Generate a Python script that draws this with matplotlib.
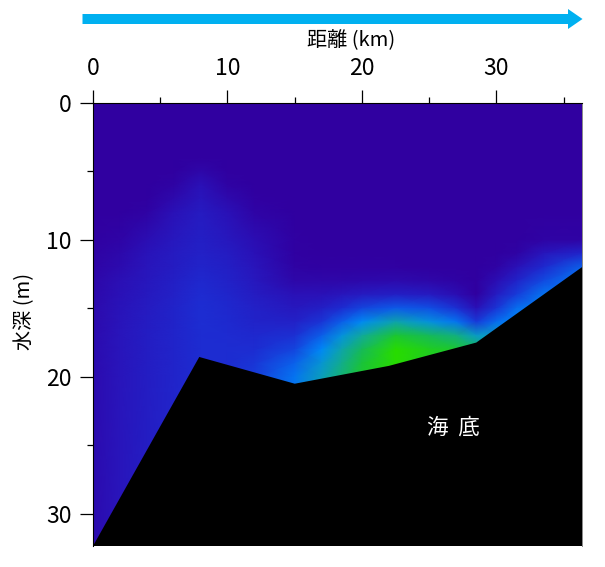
import matplotlib
matplotlib.use("Agg")
import matplotlib.pyplot as plt
from matplotlib.colors import LinearSegmentedColormap
from matplotlib.patches import FancyArrow
import numpy as np

W, H = 605, 567

# station distances (km) and depths (m) of the field
dist = [0, 2, 4, 6, 8, 10, 12, 15, 17, 18.5, 20, 22.5, 25, 27, 28.5, 30, 31.5, 33.5, 36.36]
depth = [0, 4, 5, 6, 7, 8, 10, 11, 12, 13, 14, 15, 16, 17, 18, 19, 20, 33]
conc = [
    [0, 0, 0, 0, 0, 0, 0, 0, 0, 0, 0, 0, 0, 0, 0, 0, 0, 0, 0],
    [0, 0, 0, 0, 0, 0, 0, 0, 0, 0, 0, 0, 0, 0, 0, 0, 0, 0, 0],
    [0, 0, 0, 0, .02, 0, 0, 0, 0, 0, 0, 0, 0, 0, 0, 0, 0, 0, 0],
    [0, 0, 0, .01, .05, .01, 0, 0, 0, 0, 0, 0, 0, 0, 0, 0, 0, 0, 0],
    [0, 0, 0, .03, .07, .03, .005, 0, 0, 0, 0, 0, 0, 0, 0, 0, 0, 0, 0],
    [0, 0, .01, .05, .09, .05, .015, 0, 0, 0, 0, 0, 0, 0, 0, 0, 0, 0, 0],
    [.005, .015, .04, .08, .11, .08, .04, .005, 0, 0, 0, 0, 0, 0, 0, 0, 0, .01, .01],
    [.01, .025, .055, .09, .12, .095, .05, .005, 0, 0, 0, 0, 0, 0, 0, 0, .01, .07, .14],
    [.015, .035, .065, .10, .135, .11, .065, .01, .005, .005, .005, .005, 0, 0, 0, .01, .05, .16, .34],
    [.02, .045, .075, .11, .15, .125, .08, .02, .02, .02, .025, .03, .02, .01, 0, .04, .13, .28, .42],
    [.025, .05, .085, .12, .165, .14, .10, .05, .05, .07, .09, .11, .09, .04, 0, .10, .23, .40, .42],
    [.03, .055, .09, .13, .175, .155, .12, .08, .11, .17, .26, .33, .30, .18, .05, .20, .38, .42, .42],
    [.03, .06, .10, .13, .175, .16, .13, .12, .20, .34, .46, .60, .50, .40, .22, .38, .45, .45, .45],
    [.035, .065, .105, .135, .17, .165, .15, .18, .34, .50, .63, .85, .75, .68, .55, .55, .45, .45, .45],
    [.035, .065, .105, .135, .17, .17, .17, .26, .45, .60, .75, 1, .90, .85, .75, .55, .45, .45, .45],
    [.035, .065, .105, .135, .17, .17, .20, .35, .52, .66, .82, 1, .90, .85, .75, .55, .45, .45, .45],
    [.035, .065, .105, .135, .17, .17, .23, .40, .57, .70, .85, 1, .90, .85, .75, .55, .45, .45, .45],
    [.035, .065, .105, .135, .17, .17, .23, .40, .57, .70, .85, 1, .90, .85, .75, .55, .45, .45, .45],
]

# seabed outline
bed_x = [0, 7.9, 15, 22, 28.5, 36.36]
bed_y = [32.33, 18.55, 20.5, 19.2, 17.5, 12.0]

cmap = LinearSegmentedColormap.from_list("field", [
    (0.0, "#3000a0"), (0.05, "#2a12b8"), (0.16, "#1e2ad0"), (0.30, "#1050e4"),
    (0.45, "#0088f8"), (0.62, "#10a8a0"), (0.80, "#18c040"), (1.0, "#28dc00")])

narrow = ["Liberation Sans Narrow", "Noto Sans CJK JP", "DejaVu Sans"]
plt.rcParams["font.family"] = narrow

fig = plt.figure(figsize=(W / 100, H / 100), dpi=100)
ax = fig.add_axes([93 / W, 1 - 546 / H, (582 - 93) / W, (546 - 102.5) / H])

ax.pcolormesh(dist, depth, np.array(conc), cmap=cmap, vmin=0, vmax=1,
              shading="gouraud", rasterized=True)
ax.fill(bed_x + [36.36, 0], bed_y + [32.33, 32.33], color="k", lw=0)

ax.set_xlim(0, 36.36)
ax.set_ylim(32.33, 0)
ax.xaxis.tick_top()
ax.set_xticks([0, 10, 20, 30])
ax.set_xticks([5, 15, 25, 35], minor=True)
ax.set_yticks([0, 10, 20, 30])
ax.set_yticks([5, 15, 25], minor=True)
ax.tick_params(which="major", length=9.5, width=0.9, pad=6, labelsize=16.5)
ax.tick_params(which="minor", length=4.5, width=0.9)
ax.tick_params(axis="x", which="major", pad=7)
ax.spines["bottom"].set_visible(False)
ax.spines["right"].set_color("#888888")
ax.spines["right"].set_linewidth(0.7)

# direction arrow above the chart, in figure pixels
arrow = FancyArrow(82.5 / W, 1 - 19 / H, (582.5 - 82.5) / W, 0, width=10 / H,
                   head_width=20 / H, head_length=14.5 / W,
                   length_includes_head=True, color="#00b0f0", lw=0,
                   transform=fig.transFigure)
fig.add_artist(arrow)

fig.text(351 / W, 1 - 41 / H, "距離 (km)", fontsize=14.5, ha="center", va="center")
fig.text(25 / W, 1 - 311 / H, "水深 (m)", fontsize=14.5, rotation=90,
         ha="center", va="center")
ax.text(26.8, 23.7, "海  底", color="w", fontsize=15.5, ha="center", va="center")

fig.savefig("out.png", dpi=100)
plt.close(fig)
